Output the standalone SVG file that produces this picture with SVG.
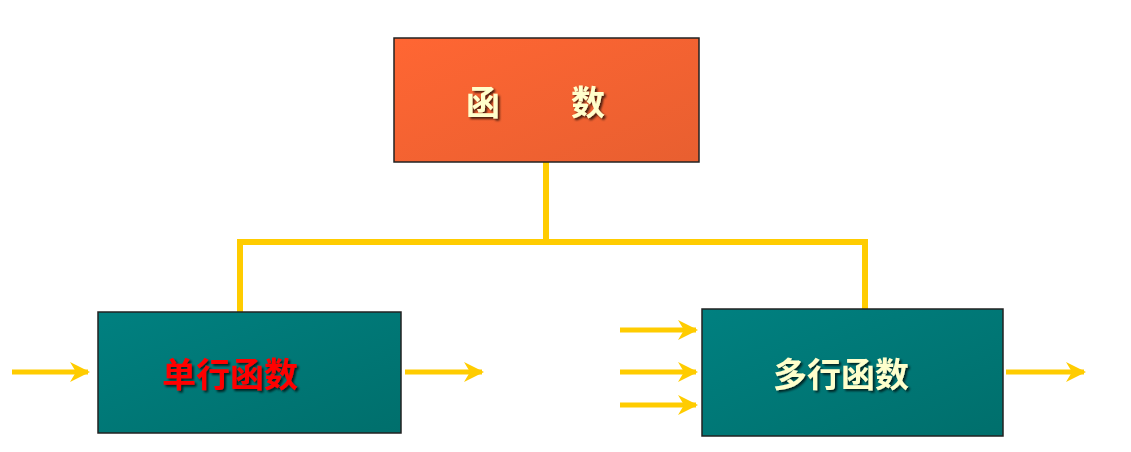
<svg xmlns="http://www.w3.org/2000/svg" width="1131" height="452" viewBox="0 0 1131 452">
<style>
.box{stroke:#222;stroke-width:1.5}
.t{font-family:"Noto Sans CJK SC",sans-serif;font-weight:bold;font-size:34px;text-anchor:middle;dominant-baseline:central}
.ln{stroke:#ffcc00;stroke-width:6;fill:none}
.ar{stroke:#ffcc00;stroke-width:5;fill:none;marker-end:url(#ah)}
</style>
<defs>
<linearGradient id="og" x1="0" y1="0" x2="1" y2="1"><stop offset="0" stop-color="#ff6633"/><stop offset="1" stop-color="#e85f30"/></linearGradient>
<linearGradient id="tg" x1="0" y1="0" x2="1" y2="1"><stop offset="0" stop-color="#008080"/><stop offset="1" stop-color="#006f6c"/></linearGradient>
<marker id="ah" viewBox="0 0 10 10" refX="9" refY="5" markerWidth="5" markerHeight="4" orient="auto" markerUnits="strokeWidth"><path d="M0,0 L10,5 L0,10 L3,5 z" fill="#ffcc00"/></marker>
<filter id="sh"><feDropShadow dx="2" dy="2" stdDeviation="1" flood-color="#000" flood-opacity="0.7"/></filter>
</defs>
<g id="connectors">
<path class="ln" d="M546,162 V242 M240,242 H865 M240,239 V312 M865,239 V309"/>
<path class="ar" d="M12,372 H88"/>
<path class="ar" d="M405,372 H482"/>
<path class="ar" d="M620,330 H696"/>
<path class="ar" d="M620,372 H696"/>
<path class="ar" d="M620,405 H696"/>
<path class="ar" d="M1006,372 H1084"/>
</g>
<g id="n-root"><rect class="box" x="394" y="38" width="305" height="124" fill="url(#og)"/><text class="t" x="483" y="100" fill="#ffffcc" filter="url(#sh)">函</text><text class="t" x="588" y="100" fill="#ffffcc" filter="url(#sh)">数</text></g>
<g id="n-single"><rect class="box" x="98" y="312" width="303" height="121" fill="url(#tg)"/><text class="t" x="230" y="372" fill="#ff0000" filter="url(#sh)">单行函数</text></g>
<g id="n-multi"><rect class="box" x="702" y="309" width="301" height="127" fill="url(#tg)"/><text class="t" x="841" y="372" fill="#ffffcc" filter="url(#sh)">多行函数</text></g>
</svg>
